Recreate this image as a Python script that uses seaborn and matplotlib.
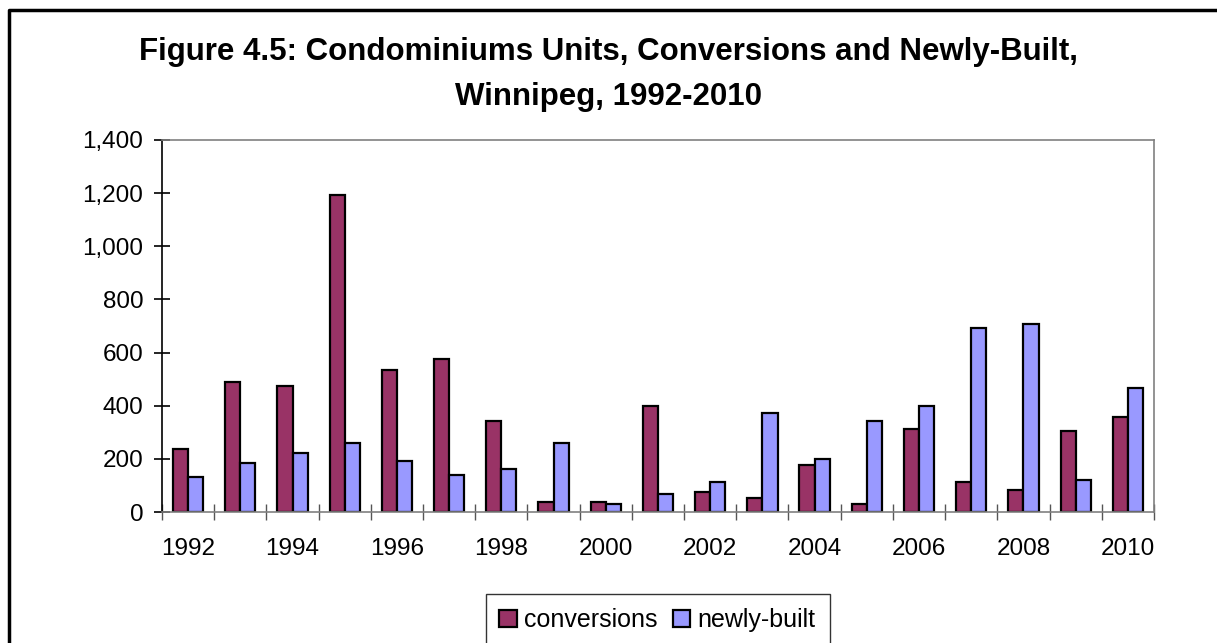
import pandas as pd
import numpy as np
import matplotlib.pyplot as plt
import seaborn as sns
from matplotlib.ticker import FuncFormatter, FixedLocator
from matplotlib.lines import Line2D

# data
years = list(range(1992, 2011))
conversions = [236, 491, 476, 1192, 536, 574, 342, 36, 36, 400,
               74, 51, 178, 29, 311, 112, 82, 304, 357]
newly_built = [132, 185, 222, 260, 192, 141, 163, 260, 29, 67,
               112, 372, 200, 342, 400, 692, 707, 119, 467]

df = pd.DataFrame({
    "year": years * 2,
    "units": conversions + newly_built,
    "type": ["conversions"] * len(years) + ["newly-built"] * len(years),
})

sns.set_style("white")
plt.rcParams['font.family'] = ['Liberation Sans', 'DejaVu Sans']
plt.rcParams['text.color'] = 'black'
plt.rcParams['xtick.color'] = 'black'
plt.rcParams['ytick.color'] = 'black'

fig = plt.figure(figsize=(12.17, 6.43), dpi=100)
ax = fig.add_axes([0.1331, 0.2037, 0.8151, 0.5786])

sns.barplot(data=df, x="year", y="units", hue="type",
            palette=["#993366", "#9999FF"], width=0.58, saturation=1,
            edgecolor="black", linewidth=1.6, ax=ax, legend=True)

ax.set_ylim(0, 1400)
ax.set_xlim(-0.5, len(years) - 0.5)
ax.set_yticks(np.arange(0, 1401, 200))
ax.yaxis.set_major_formatter(FuncFormatter(lambda v, p: f"{int(v):,}"))
ax.tick_params(axis="y", which="major", direction="inout", length=11, width=1.2,
               color="black", labelcolor="black", labelsize=17.5, pad=8, left=True)

# year labels every other year, tick marks between categories
ax.set_xticks(range(0, len(years), 2))
ax.set_xticklabels([str(y) for y in years[::2]])
ax.xaxis.set_minor_locator(FixedLocator(np.arange(-0.5, len(years), 1)))
ax.tick_params(axis="x", which="major", length=0, labelsize=17.5, pad=19,
               labelcolor="black")
ax.tick_params(axis="x", which="minor", direction="inout", length=11, width=1.0,
               color="#555555", bottom=True)

ax.set_xlabel("")
ax.set_ylabel("")

for side in ["top", "right", "bottom"]:
    ax.spines[side].set_visible(True)
    ax.spines[side].set_color("#808080")
    ax.spines[side].set_linewidth(1.2)
ax.spines["left"].set_color("black")
ax.spines["left"].set_linewidth(1.2)

fig.suptitle("Figure 4.5: Condominiums Units, Conversions and Newly-Built,\nWinnipeg, 1992-2010",
             fontsize=22.5, fontweight="bold", y=0.942, linespacing=1.62,
             color="black")

handles, labels = ax.get_legend_handles_labels()
ax.get_legend().remove()
leg = fig.legend(handles, labels, loc="upper center", bbox_to_anchor=(0.5403, 0.0755),
                 ncol=2, fontsize=18, frameon=True, fancybox=False,
                 edgecolor="black", handlelength=0.7, handleheight=0.7,
                 handletextpad=0.3, columnspacing=0.6, borderpad=0.55,
                 borderaxespad=0)
leg.get_frame().set_linewidth(1.0)
for t in leg.get_texts():
    t.set_color("black")

# outer chart border (only top and left edges show in the crop)
fig.lines.append(Line2D([0.0078, 0.0078, 1.0], [0.0, 0.985, 0.985],
                        transform=fig.transFigure, color="black", linewidth=2.5))

fig.savefig("out.png", dpi=100)
